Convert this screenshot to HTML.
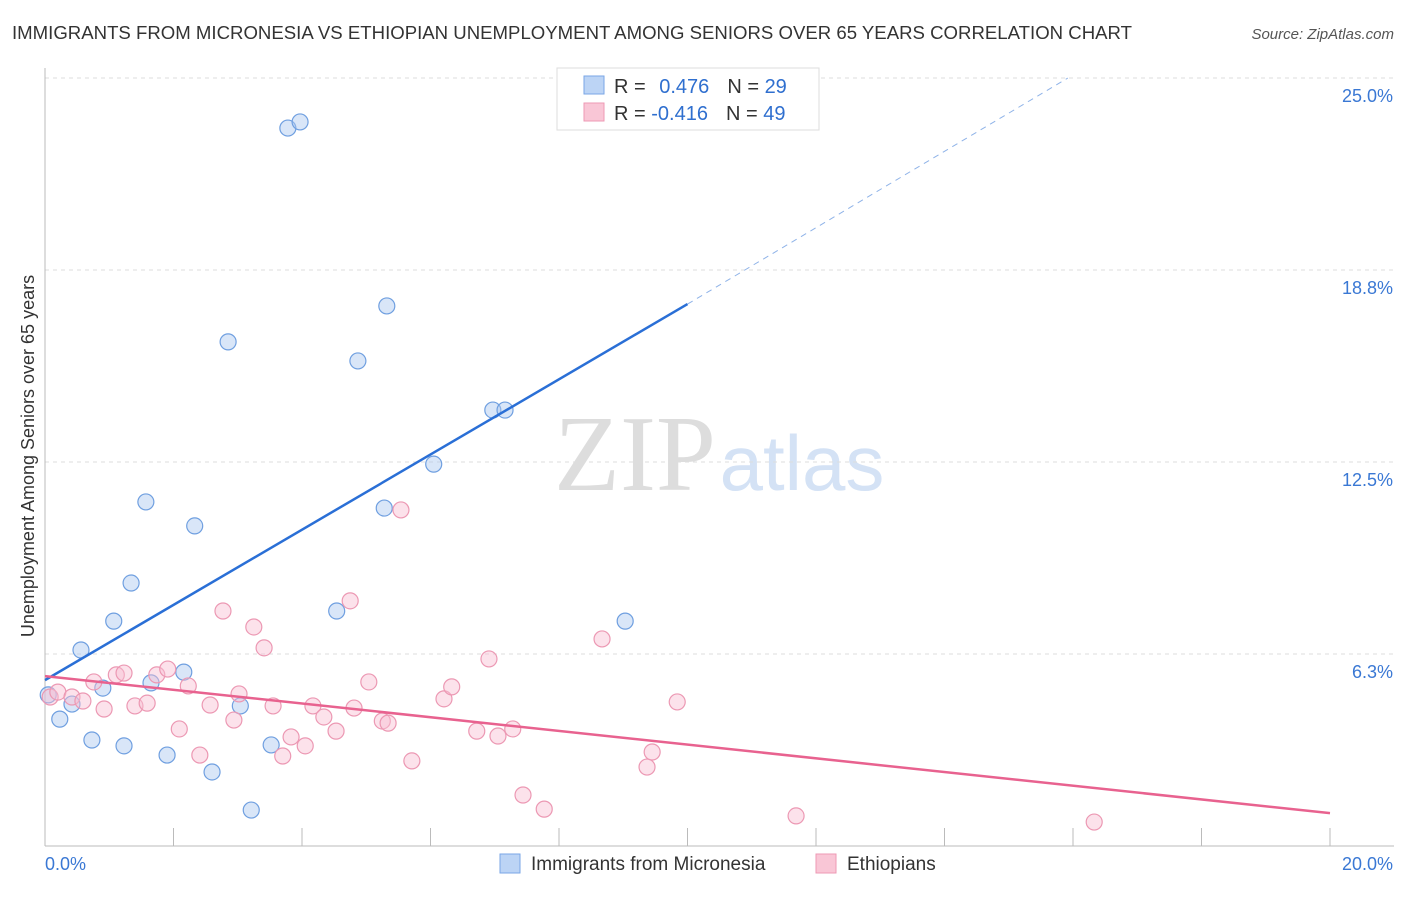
<!DOCTYPE html>
<html><head><meta charset="utf-8"><style>
body{margin:0;background:#fff;font-family:"Liberation Sans",sans-serif;}
</style></head><body>
<svg width="1406" height="892" xmlns="http://www.w3.org/2000/svg" font-family="Liberation Sans, sans-serif">
<text x="12" y="39" font-size="18" fill="#333" textLength="1120" lengthAdjust="spacingAndGlyphs">IMMIGRANTS FROM MICRONESIA VS ETHIOPIAN UNEMPLOYMENT AMONG SENIORS OVER 65 YEARS CORRELATION CHART</text>
<text x="1394" y="39" font-size="15" fill="#555" text-anchor="end" font-style="italic">Source: ZipAtlas.com</text>
<g>
<text x="635" y="490" font-size="108" font-family="Liberation Serif, serif" fill="#ddd" text-anchor="middle">ZIP</text>
<text x="802" y="490" font-size="78" fill="#d4e2f5" text-anchor="middle">atlas</text>
</g>
<g id="grid"></g>
<g id="axes"></g>
<g id="marks"></g>
<g>
<rect x="557" y="68" width="262" height="62" fill="#fff" stroke="#ddd"/>
<rect x="584" y="76" width="20" height="18" fill="#bcd4f5" stroke="#7aa6e6"/>
<rect x="584" y="103" width="20" height="18" fill="#f9c6d6" stroke="#ee99b4"/>
<text x="614" y="93" font-size="20" fill="#333">R = <tspan fill="#2f6fcf" dx="8">0.476</tspan><tspan dx="18" fill="#333">N = </tspan><tspan fill="#2f6fcf">29</tspan></text>
<text x="614" y="120" font-size="20" fill="#333">R = <tspan fill="#2f6fcf">-0.416</tspan><tspan dx="18" fill="#333">N = </tspan><tspan fill="#2f6fcf">49</tspan></text>
</g>
<g>
<rect x="500" y="854" width="20" height="19" fill="#bcd4f5" stroke="#7aa6e6"/>
<text x="531" y="870" font-size="19" fill="#333">Immigrants from Micronesia</text>
<rect x="816" y="854" width="20" height="19" fill="#f9c6d6" stroke="#ee99b4"/>
<text x="847" y="870" font-size="19" fill="#333">Ethiopians</text>
</g>
<text transform="translate(34,456) rotate(-90)" font-size="18" fill="#333" text-anchor="middle">Unemployment Among Seniors over 65 years</text>
</svg>
<script>
const blueX=[0.05,0.23,0.42,0.56,0.73,0.90,1.07,1.23,1.34,1.57,1.65,1.90,2.16,2.33,2.60,2.85,3.04,3.21,3.52,3.78,3.97,4.54,4.87,5.28,5.32,6.05,6.97,7.16,9.03];
const blueY=[4.92,4.13,4.62,6.38,3.45,5.14,7.32,3.26,8.56,11.20,5.31,2.96,5.66,10.42,2.41,16.41,4.56,1.17,3.29,23.37,23.57,7.65,15.79,11.00,17.58,12.43,14.19,14.19,7.32];
const pinkX=[0.08,0.20,0.42,0.59,0.76,0.92,1.11,1.23,1.40,1.59,1.74,1.91,2.09,2.23,2.41,2.57,2.77,2.94,3.02,3.25,3.41,3.55,3.70,3.83,4.05,4.17,4.34,4.53,4.75,4.81,5.04,5.25,5.34,5.54,5.71,6.21,6.33,6.72,6.91,7.05,7.28,7.44,7.77,8.67,9.37,9.45,9.84,11.69,16.33];
const pinkY=[4.85,5.01,4.85,4.72,5.34,4.46,5.57,5.63,4.56,4.65,5.57,5.76,3.81,5.21,2.96,4.59,7.65,4.10,4.95,7.13,6.45,4.56,2.93,3.55,3.26,4.56,4.20,3.74,7.98,4.49,5.34,4.07,4.00,10.94,2.77,4.79,5.18,3.74,6.09,3.58,3.81,1.66,1.20,6.74,2.57,3.06,4.69,0.98,0.78];
const yTicks=[6.25,12.5,18.75,25];
const yTickLabels=["6.3%","12.5%","18.8%","25.0%"];
const xTicks=[0,2,4,6,8,10,12,14,16,18,20];
const blueTrend=[5.40,17.64,15.92,25.0];
const pinkTrend=[5.53,1.07];
const NS="http://www.w3.org/2000/svg";
const X=v=>45+v*64.25, Y=v=>846-v*30.72;
function mk(t,a,p){const e=document.createElementNS(NS,t);for(const k in a)e.setAttribute(k,a[k]);p.appendChild(e);return e;}
const grid=document.getElementById('grid'),axes=document.getElementById('axes'),marks=document.getElementById('marks');
yTicks.forEach((v,i)=>{
 const l=mk('line',{x1:45,x2:1394,y1:Y(v),y2:Y(v),stroke:'#ddd','stroke-dasharray':'4,4'},grid);
 
 
 const t=mk('text',{x:1393,y:Y(v)+24,'font-size':18,fill:'#3a78d4','text-anchor':'end'},axes);
 t.textContent=yTickLabels[i];
 
 
});
const ax=mk('line',{x1:45,x2:1394,y1:846,y2:846,stroke:'#bbb'},axes);


const ay=mk('line',{x1:45,x2:45,y1:68,y2:846,stroke:'#bbb'},axes);


xTicks.forEach(v=>{const t=mk('line',{x1:X(v),x2:X(v),y1:828,y2:846,stroke:'#bbb'},axes);
 
 });
[[0,"0.0%","start",45],[20,"20.0%","end",1393]].forEach(a=>{const t=mk('text',{x:a[3],y:870,'font-size':18,fill:'#3a78d4','text-anchor':a[2]},axes);t.textContent=a[1];
 
 });
blueX.forEach((v,i)=>{const c=mk('circle',{cx:X(v),cy:Y(blueY[i]),r:8,fill:'rgba(170,200,240,0.45)',stroke:'#6f9fe0','stroke-width':1.2},marks);
 
 });
pinkX.forEach((v,i)=>{const c=mk('circle',{cx:X(v),cy:Y(pinkY[i]),r:8,fill:'rgba(248,190,210,0.45)',stroke:'#ec98b3','stroke-width':1.2},marks);
 
 });
const b1=mk('line',{x1:X(0),y1:Y(blueTrend[0]),x2:X(10),y2:Y(blueTrend[1]),stroke:'#2a6fd6','stroke-width':2.5},marks);


const b2=mk('line',{x1:X(10),y1:Y(blueTrend[1]),x2:X(blueTrend[2]),y2:Y(blueTrend[3]),stroke:'#8fb3e8','stroke-width':1,'stroke-dasharray':'6,5'},marks);


const p1=mk('line',{x1:X(0),y1:Y(pinkTrend[0]),x2:X(20),y2:Y(pinkTrend[1]),stroke:'#e8628f','stroke-width':2.5},marks);


</script>
</body></html>
